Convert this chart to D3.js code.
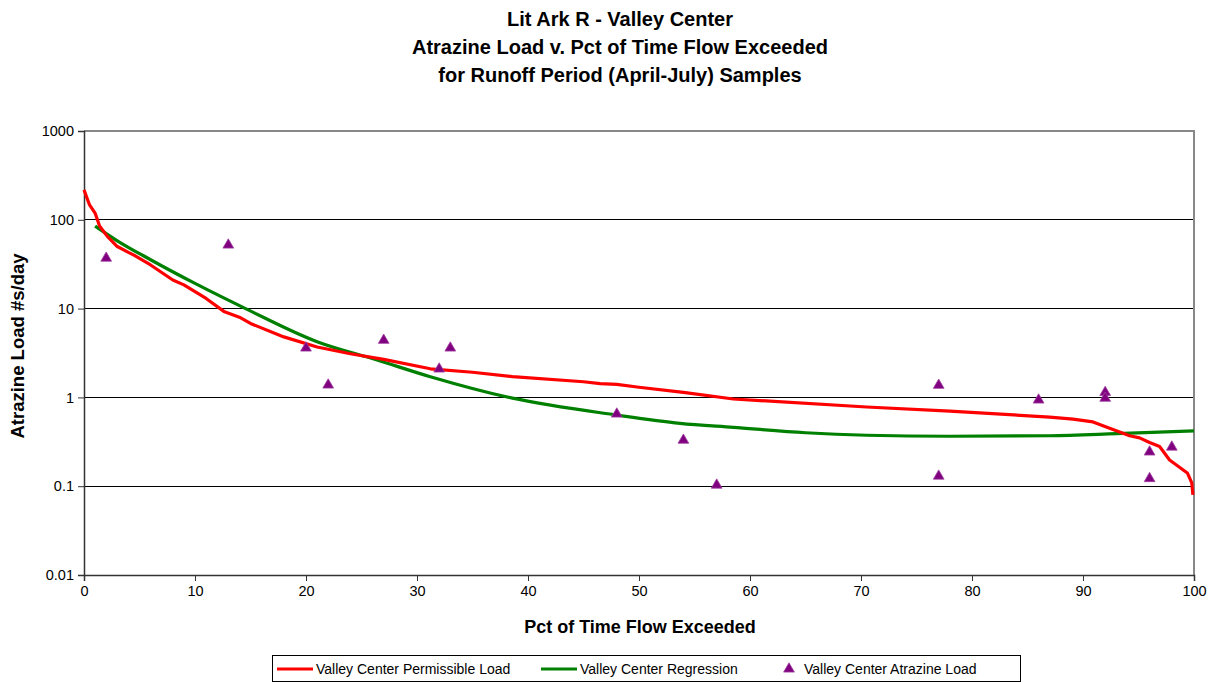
<!DOCTYPE html>
<html><head><meta charset="utf-8">
<script src="https://cdn.jsdelivr.net/npm/d3@7"></script>
<style>body{margin:0;background:#fff}svg{display:block;font-family:"Liberation Sans",Arial,sans-serif}</style>
</head><body><svg id="c" width="1214" height="682"></svg>
<script>
const titleLines = ["Lit Ark R - Valley Center","Atrazine Load v. Pct of Time Flow Exceeded","for Runoff Period (April-July) Samples"];
const xTicks = [0,10,20,30,40,50,60,70,80,90,100];
const yTicks = [0.01,0.1,1,10,100,1000];
const yTickLabels = ["0.01","0.1","1","10","100","1000"];

const permX = [0,0.5,1,1.4,2.1,3,4,4.5,6,8,9,11,12.6,14,15,18,21,24,27,31.2,35,38.6,45,46.5,48,50,54,58.5,70.5,78,87,89.1,90.9,93,94.2,95.1,96,96.9,97.8,99.4,99.8,99.9];
const permY = [217,147,119,85,65,50,43,40,31,21,18.5,13,9.3,8.0,6.8,4.8,3.7,3.1,2.68,2.1,1.92,1.71,1.5,1.43,1.40,1.30,1.14,0.96,0.78,0.70,0.60,0.57,0.53,0.42,0.37,0.35,0.31,0.28,0.197,0.141,0.109,0.080];

const regX = [1,3,6,10,14.7,21,26.4,31.2,38.6,48,53.7,58.5,65,70.5,78,87,93,100];
const regY = [85,58,35.5,19.2,9.8,4.24,2.64,1.71,0.98,0.633,0.511,0.46,0.40,0.375,0.365,0.37,0.39,0.42];

const obsX = [2,13,20,22,27,32,33,48,54,57,77,77,86,92,92,96,96,98];
const obsY = [37,52,3.6,1.38,4.4,2.09,3.6,0.65,0.33,0.103,1.37,0.13,0.935,1.14,0.98,0.243,0.122,0.276];

const svg = d3.select("#c");
const L=84,R=1194,T=131,B=575;
const x = d3.scaleLinear().domain([0,100]).range([L,R]);
const y = d3.scaleLog().domain([0.01,1000]).range([B,T]);

// titles
svg.append("g").selectAll("text").data(titleLines).join("text")
  .attr("x",620).attr("y",(d,i)=>25.5+i*28).attr("text-anchor","middle")
  .attr("font-size",20).attr("font-weight","bold").text(d=>d);

// grid
svg.append("g").selectAll("line").data([0.1,1,10,100]).join("line")
  .attr("x1",L).attr("x2",R).attr("y1",d=>y(d)).attr("y2",d=>y(d))
  .attr("stroke","#000").attr("stroke-width",1).attr("shape-rendering","crispEdges");
// border top/right
svg.append("path").attr("d",`M${L},${T}H${R}V${B}`).attr("fill","none")
  .attr("stroke","#888").attr("stroke-width",1.5).attr("shape-rendering","crispEdges");

// axes
const ya = d3.axisLeft(y).tickValues(yTicks).tickFormat((d,i)=>yTickLabels[i]).tickSize(6).tickPadding(4);
const yg = svg.append("g").attr("transform",`translate(${L},0)`).call(ya);
yg.select(".domain").attr("stroke","#333").attr("stroke-width",1.5);
yg.selectAll("text").attr("font-size",14.5).attr("fill","#000").attr("font-family","Liberation Sans, Arial");
yg.selectAll(".tick line").attr("stroke","#333");
const xa = d3.axisBottom(x).tickValues(xTicks).tickSize(6).tickPadding(5);
const xg = svg.append("g").attr("transform",`translate(0,${B})`).call(xa);
xg.select(".domain").attr("stroke","#333").attr("stroke-width",1.5);
xg.selectAll("text").attr("font-size",14.5).attr("fill","#000").attr("font-family","Liberation Sans, Arial");
xg.selectAll(".tick line").attr("stroke","#333");

// axis titles
svg.append("text").attr("x",640).attr("y",633).attr("text-anchor","middle")
  .attr("font-size",18).attr("font-weight","bold").text("Pct of Time Flow Exceeded");
svg.append("text").attr("transform","translate(24,346) rotate(-90)").attr("text-anchor","middle")
  .attr("font-size",18.5).attr("font-weight","bold").text("Atrazine Load #s/day");

// lines
const line = d3.line().x(d=>x(d[0])).y(d=>y(d[1])).curve(d3.curveMonotoneX);
svg.append("path").datum(regX.map((v,i)=>[v,regY[i]])).attr("d",line)
  .attr("fill","none").attr("stroke","#008000").attr("stroke-width",3.2);
svg.append("path").datum(permX.map((v,i)=>[v,permY[i]])).attr("d",d3.line().x(d=>x(d[0])).y(d=>y(d[1])))
  .attr("fill","none").attr("stroke","#ff0000").attr("stroke-width",3.2).attr("stroke-linejoin","round");

// triangles
const tri = d3.symbol().type(d3.symbolTriangle).size(50);
svg.append("g").selectAll("path").data(obsX.map((v,i)=>[v,obsY[i]])).join("path")
  .attr("d",tri).attr("transform",d=>`translate(${x(d[0])},${y(d[1])})`)
  .attr("fill","#800080").attr("stroke","#a040a0").attr("stroke-width",0.8);

// legend
const lg = svg.append("g");
lg.append("rect").attr("x",272.5).attr("y",655.5).attr("width",748).attr("height",26)
  .attr("fill","#fff").attr("stroke","#000").attr("stroke-width",1);
lg.append("line").attr("x1",277).attr("x2",313).attr("y1",669).attr("y2",669).attr("stroke","#ff0000").attr("stroke-width",3);
lg.append("text").attr("x",316).attr("y",674).attr("font-size",14).text("Valley Center Permissible Load");
lg.append("line").attr("x1",541).attr("x2",577).attr("y1",669).attr("y2",669).attr("stroke","#008000").attr("stroke-width",3);
lg.append("text").attr("x",580).attr("y",674).attr("font-size",14).text("Valley Center Regression");
lg.append("path").attr("d",tri).attr("transform","translate(789,669)").attr("fill","#800080").attr("stroke","#a040a0").attr("stroke-width",0.8);
lg.append("text").attr("x",804).attr("y",674).attr("font-size",14).text("Valley Center Atrazine Load");
</script></body></html>
